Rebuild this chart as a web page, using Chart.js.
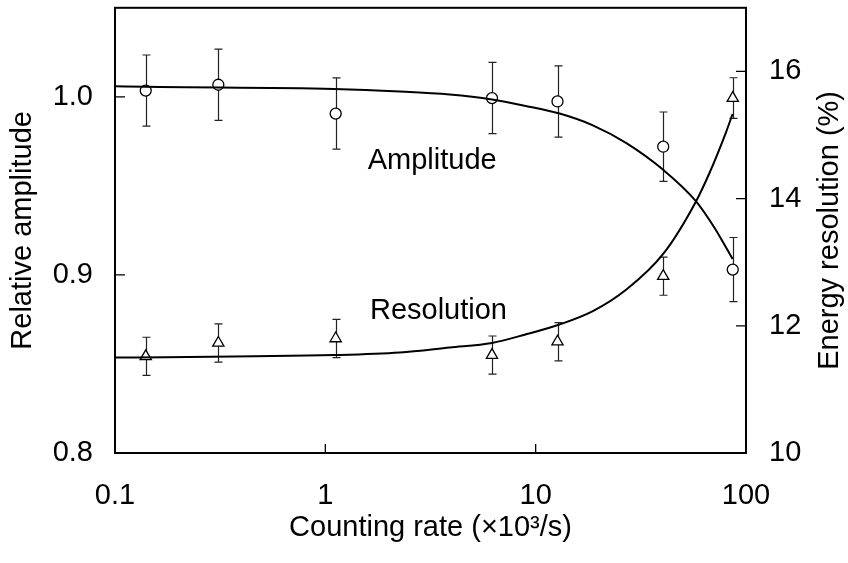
<!DOCTYPE html>
<html>
<head>
<meta charset="utf-8">
<script src="https://cdn.jsdelivr.net/npm/chart.js@4.4.1/dist/chart.umd.min.js"></script>
<style>
  body { margin: 0; background: #fff; }
  canvas { display: block; }
</style>
</head>
<body>
<canvas id="rate_chart" width="848" height="563"></canvas>
<script>
// measured points (counting rate in 10^3/s)
const rate = [0.14, 0.31, 1.12, 6.2, 12.7, 40.4, 86.5];
const amplitude = [1.0035, 1.0068, 0.9906, 0.9993, 0.9974, 0.972, 0.903];
const ampErr = [0.02, 0.02, 0.02, 0.02, 0.02, 0.0195, 0.018];
const resolution = [11.52, 11.73, 11.80, 11.54, 11.75, 12.78, 15.58];
const resErr = [0.3, 0.3, 0.3, 0.3, 0.3, 0.3, 0.32];

// fitted curves
const ampCurveX = [0.1, 0.14, 1.1, 2.26, 3.9, 6.2, 8.87, 13.0, 18.7, 27.0, 40.4, 57.5, 70.8, 86.3];
const ampCurveY = [1.0059, 1.0056, 1.0044, 1.003, 1.0013, 0.9985, 0.995, 0.9906, 0.984, 0.974, 0.959, 0.9417, 0.9265, 0.909];
const resCurveX = [0.1, 1.1, 2.26, 3.9, 6.2, 8.87, 13.0, 18.7, 27.0, 40.4, 57.5, 67.2, 80.5, 86.3];
const resCurveY = [11.5, 11.54, 11.58, 11.66, 11.73, 11.86, 12.02, 12.23, 12.57, 13.13, 13.94, 14.41, 15.05, 15.33];

// axis ticks
const xTickValues = [0.1, 0.2, 0.3, 0.4, 0.5, 0.6, 0.7, 0.8, 0.9,
  1, 2, 3, 4, 5, 6, 7, 8, 9, 10, 20, 30, 40, 50, 60, 70, 80, 90, 100];
const xLabelValues = [0.1, 1, 10, 100];
const ampLabelValues = [0.8, 0.9, 1.0];
const resLabelValues = [10, 12, 14, 16];

const FONT = '"Liberation Sans", Arial, Helvetica, sans-serif';
Chart.defaults.font.family = FONT;
Chart.defaults.font.size = 29;
Chart.defaults.color = '#000';

const near = (list, v) => list.some(l => Math.abs(l - v) < 1e-6);
const toXY = (xs, ys) => xs.map((v, i) => ({ x: v, y: ys[i] }));

// keep the plot box where the reference has it
function fixWidth(w) {
  return s => { s.width = w; s.paddingTop = 0; s.paddingBottom = 0; };
}

function drawErrorBars(ctx, xs, ys, xv, yv, ev) {
  xv.forEach((v, i) => {
    const px = Math.round(xs.getPixelForValue(v)) + 0.5;
    const top = ys.getPixelForValue(yv[i] + ev[i]);
    const bot = ys.getPixelForValue(yv[i] - ev[i]);
    ctx.beginPath();
    ctx.moveTo(px, top); ctx.lineTo(px, bot);
    ctx.moveTo(px - 4, top); ctx.lineTo(px + 4, top);
    ctx.moveTo(px - 4, bot); ctx.lineTo(px + 4, bot);
    ctx.stroke();
  });
}

const framePlugin = {
  id: 'frame',
  beforeDatasetsDraw(chart) {
    const { ctx, scales: { x, y, y1 } } = chart;
    ctx.save();
    ctx.strokeStyle = '#222';
    ctx.lineWidth = 1.2;
    drawErrorBars(ctx, x, y, rate, amplitude, ampErr);
    drawErrorBars(ctx, x, y1, rate, resolution, resErr);
    ctx.restore();
  },
  afterDraw(chart) {
    const { ctx, chartArea: a, scales: { x, y, y1 } } = chart;
    ctx.save();
    ctx.strokeStyle = '#000';

    // inward tick marks
    ctx.lineWidth = 1.3;
    ctx.beginPath();
    x.ticks.forEach(t => {
      const p = x.getPixelForValue(t.value);
      const len = near(xLabelValues, t.value) ? 9 : 6;
      ctx.moveTo(p, a.bottom); ctx.lineTo(p, a.bottom - len);
    });
    y.ticks.forEach(t => {
      const p = y.getPixelForValue(t.value);
      const len = near(ampLabelValues, t.value) ? 10 : 8;
      ctx.moveTo(a.left, p); ctx.lineTo(a.left + len, p);
    });
    y1.ticks.forEach(t => {
      const p = y1.getPixelForValue(t.value);
      const len = near(resLabelValues, t.value) ? 10 : 7;
      ctx.moveTo(a.right, p); ctx.lineTo(a.right - len, p);
    });
    ctx.stroke();

    // frame
    ctx.lineWidth = 2;
    ctx.strokeRect(a.left, a.top, a.right - a.left, a.bottom - a.top);

    // curve labels
    ctx.fillStyle = '#000';
    ctx.font = '29px ' + FONT;
    ctx.textAlign = 'left';
    ctx.textBaseline = 'alphabetic';
    ctx.fillText('Amplitude', x.getPixelForValue(1.59), y.getPixelForValue(0.9592));
    ctx.fillText('Resolution', x.getPixelForValue(1.63), y1.getPixelForValue(12.1));

    // right axis title, reading upwards
    ctx.translate(y1.right - 18, (a.top + a.bottom) / 2);
    ctx.rotate(-Math.PI / 2);
    ctx.textAlign = 'center';
    ctx.textBaseline = 'middle';
    ctx.fillText('Energy resolution (%)', 0, 0);
    ctx.restore();
  }
};

const ctx = document.getElementById('rate_chart').getContext('2d');
const rateChart = new Chart(ctx, {
  type: 'line',
  data: {
    datasets: [{
      label: 'Amplitude fit',
      data: toXY(ampCurveX, ampCurveY),
      yAxisID: 'y',
      borderColor: '#000',
      borderWidth: 2,
      pointRadius: 0,
      cubicInterpolationMode: 'monotone'
    }, {
      label: 'Resolution fit',
      data: toXY(resCurveX, resCurveY),
      yAxisID: 'y1',
      borderColor: '#000',
      borderWidth: 2,
      pointRadius: 0,
      cubicInterpolationMode: 'monotone'
    }, {
      label: 'Amplitude',
      data: toXY(rate, amplitude),
      yAxisID: 'y',
      showLine: false,
      pointStyle: 'circle',
      pointRadius: 5.5,
      pointBackgroundColor: '#fff',
      pointBorderColor: '#000',
      pointBorderWidth: 1.3
    }, {
      label: 'Resolution',
      data: toXY(rate, resolution),
      yAxisID: 'y1',
      showLine: false,
      pointStyle: 'triangle',
      pointRadius: 6.5,
      pointBackgroundColor: '#fff',
      pointBorderColor: '#000',
      pointBorderWidth: 1.3
    }]
  },
  options: {
    responsive: false,
    animation: false,
    layout: { padding: { top: 4, left: 0, right: 0, bottom: 0 } },
    plugins: {
      legend: { display: false },
      tooltip: { enabled: false }
    },
    scales: {
      x: {
        type: 'logarithmic',
        min: 0.1,
        max: 100,
        afterBuildTicks: s => { s.ticks = xTickValues.map(v => ({ value: v })); },
        afterFit: s => { s.height = 110; s.paddingLeft = 0; s.paddingRight = 0; },
        grid: { display: false, drawTicks: false },
        border: { display: false },
        ticks: {
          autoSkip: false,
          maxRotation: 0,
          padding: 26,
          callback: v => near(xLabelValues, v) ? String(v) : null
        },
        title: {
          display: true,
          text: 'Counting rate (×10³/s)',
          padding: { top: 0, bottom: 18 }
        }
      },
      y: {
        position: 'left',
        min: 0.8,
        max: 1.05,
        afterFit: fixWidth(115),
        grid: { display: false, drawTicks: false },
        border: { display: false },
        ticks: {
          stepSize: 0.05,
          padding: 22,
          callback: v => near(ampLabelValues, v) ? v.toFixed(1) : null
        },
        title: {
          display: true,
          text: 'Relative amplitude',
          padding: { top: 6, bottom: 0 }
        }
      },
      y1: {
        position: 'right',
        min: 10,
        max: 17,
        afterFit: fixWidth(102),
        grid: { display: false, drawTicks: false },
        border: { display: false },
        ticks: {
          stepSize: 1,
          padding: 23,
          callback: v => near(resLabelValues, v) ? String(v) : null
        }
      }
    }
  },
  plugins: [framePlugin]
});
</script>
</body>
</html>
